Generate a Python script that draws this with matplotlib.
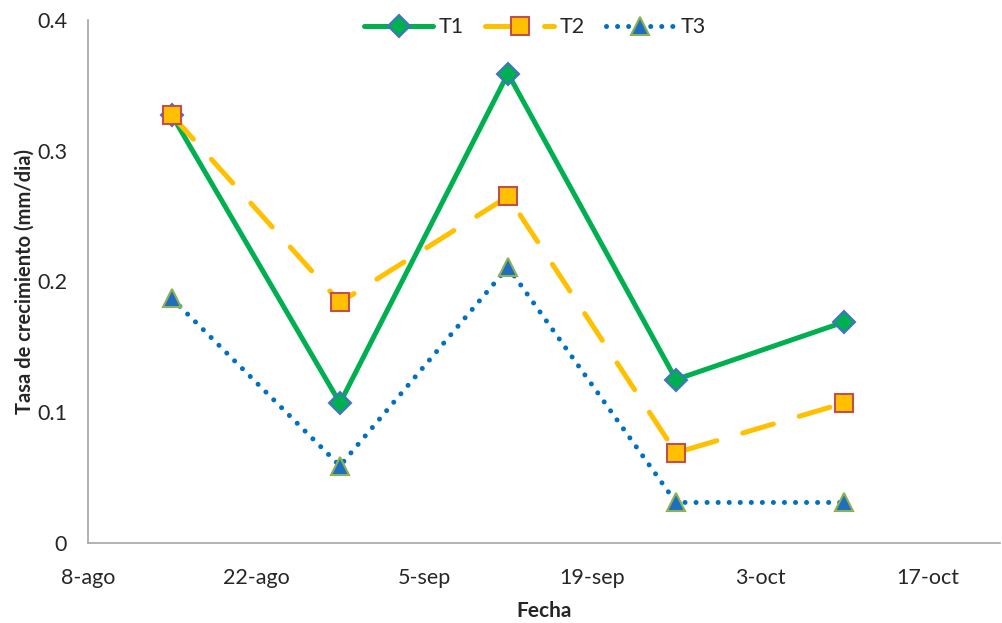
import datetime as dt
import matplotlib
matplotlib.use("Agg")
import matplotlib.pyplot as plt

plt.rcParams['font.family'] = ['Lato', 'DejaVu Sans']

fechas = ["2016-08-15", "2016-08-29", "2016-09-12", "2016-09-26", "2016-10-10"]
t1 = [0.327, 0.107, 0.359, 0.125, 0.169]
t2 = [0.327, 0.184, 0.265, 0.069, 0.107]
t3 = [0.187, 0.059, 0.211, 0.031, 0.031]

tick_fechas = ["2016-08-08", "2016-08-22", "2016-09-05", "2016-09-19", "2016-10-03", "2016-10-17"]
tick_labels = ["8-ago", "22-ago", "5-sep", "19-sep", "3-oct", "17-oct"]
y_ticks = [0, 0.1, 0.2, 0.3, 0.4]
y_labels = ["0", "0.1", "0.2", "0.3", "0.4"]

x = [dt.datetime.fromisoformat(f) for f in fechas]
xt = [dt.datetime.fromisoformat(f) for f in tick_fechas]

fig = plt.figure(figsize=(10.03, 6.23), dpi=100)
ax = fig.add_axes([0.0877, 0.1284, 0.9093, 0.8396])

lw = 3.6
ax.plot(x, t1, color="#00B050", lw=lw, solid_capstyle="round", solid_joinstyle="round",
        marker="D", ms=11.5, mfc="#00B050", mec="#4472C4", mew=1.5, label="T1")
ax.plot(x, t2, color="#FFC000", lw=lw, dashes=(6.4, 5.4), dash_capstyle="round",
        marker="s", ms=12.5, mfc="#FFC000", mec="#C0504D", mew=1.5, label="T2")
ax.plot(x, t3, color="#0070C0", lw=lw, dashes=(0.01, 2.2), dash_capstyle="round",
        marker="^", ms=13, mfc="#1F6FC0", mec="#8DB253", mew=1.5, label="T3")

ax.set_xlim(dt.datetime(2016, 8, 8), dt.datetime(2016, 10, 23))
ax.set_ylim(0, 0.4)
ax.set_xticks(xt)
ax.set_xticklabels(tick_labels)
ax.set_yticks(y_ticks)
ax.set_yticklabels(y_labels)
ax.tick_params(length=0, labelsize=15.5, colors="#262626")
ax.tick_params(axis="x", pad=18)
ax.tick_params(axis="y", pad=15)

for s in ["top", "right"]:
    ax.spines[s].set_visible(False)
for s in ["left", "bottom"]:
    ax.spines[s].set_color("#A6A6A6")
    ax.spines[s].set_linewidth(1.2)

ax.set_xlabel("Fecha", fontsize=15, fontweight="bold", color="#262626", labelpad=9)
ax.set_ylabel("Tasa de crecimiento (mm/dia)", fontsize=14.5, fontweight="bold",
              color="#262626", labelpad=2)

leg = ax.legend(loc="upper center", bbox_to_anchor=(0.49, 1.042), ncol=3, frameon=False,
                fontsize=15.5, handlelength=3.2, columnspacing=1.0, handletextpad=0.25)
for t in leg.get_texts():
    t.set_color("#262626")

fig.savefig("out.png", dpi=100)
